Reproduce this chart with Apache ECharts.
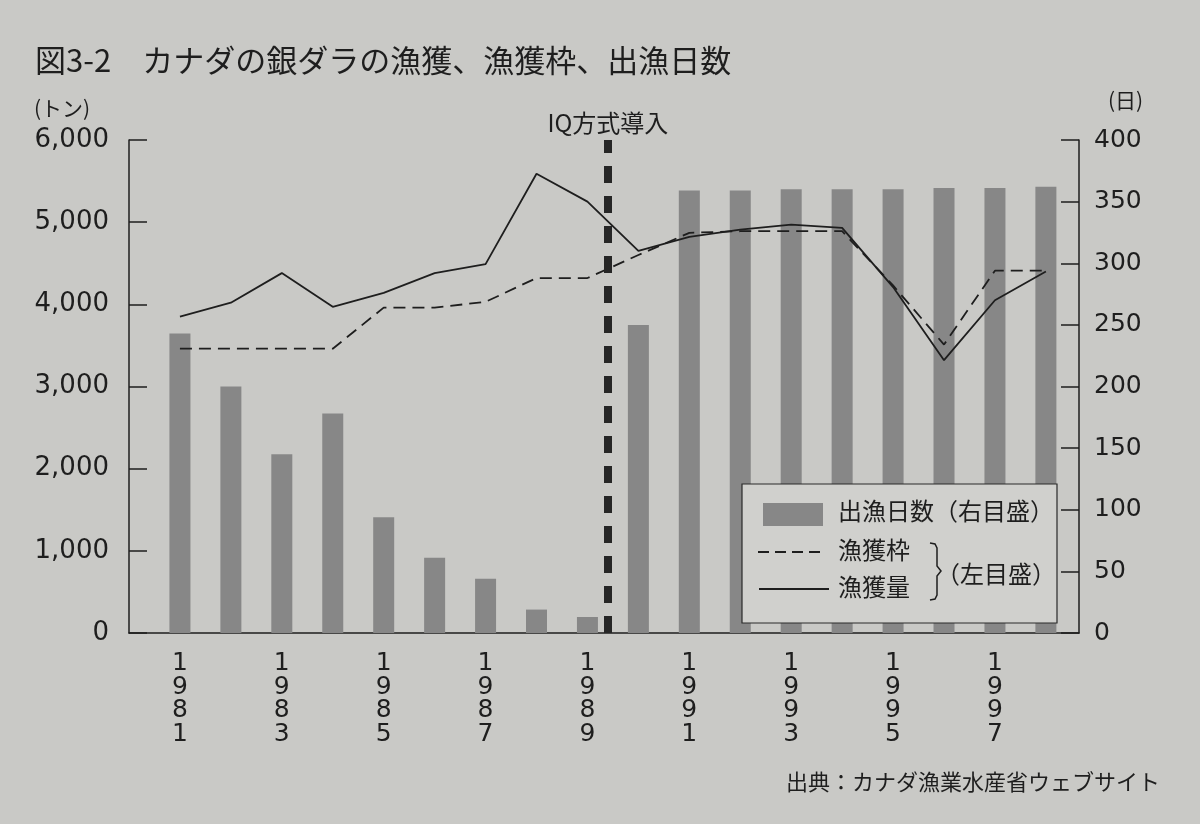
<!DOCTYPE html>
<html>
<head>
<meta charset="utf-8">
<script src="https://cdn.jsdelivr.net/npm/echarts@6/dist/echarts.min.js"></script>
<style>
  html, body { margin: 0; padding: 0; background: #c9c9c6; }
  #chart { width: 1200px; height: 824px; }
</style>
</head>
<body>
<div id="chart"></div>
<script>
// 年（横軸）
const years = [1981, 1982, 1983, 1984, 1985, 1986, 1987, 1988, 1989,
  1990, 1991, 1992, 1993, 1994, 1995, 1996, 1997, 1998];
// 出漁日数（右目盛, 日）
const fishingDays = [243, 200, 145, 178, 94, 61, 44, 19, 13,
  250, 359, 359, 360, 360, 360, 361, 361, 362];
// 漁獲量（左目盛, トン）
const catchTons = [3850, 4020, 4380, 3970, 4140, 4380, 4490, 5590, 5250,
  4650, 4820, 4910, 4970, 4930, 4210, 3320, 4050, 4400];
// 漁獲枠（左目盛, トン）
const quotaTons = [3460, 3460, 3460, 3460, 3960, 3960, 4030, 4320, 4320,
  4600, 4870, 4890, 4890, 4890, 4230, 3510, 4410, 4410];
// 目盛
const leftTicks = [0, 1000, 2000, 3000, 4000, 5000, 6000];
const rightTicks = [0, 50, 100, 150, 200, 250, 300, 350, 400];
const iqYear = 1989.4;

const JP = "'Noto Sans CJK JP', sans-serif";
const NUM = "'DejaVu Sans', sans-serif";
const INK = '#1e1e1e';
const BAR = '#878787';

const chart = echarts.init(document.getElementById('chart'));

const pair = (arr) => years.map((y, i) => [y, arr[i]]);

let option = {
  backgroundColor: '#c9c9c6',
  animation: false,
  grid: { left: 129, right: 121, top: 140, bottom: 191 },
  xAxis: {
    type: 'value',
    min: 1980,
    max: 1998.65,
    interval: 1,
    axisLine: { show: true, lineStyle: { color: INK, width: 1.5 } },
    axisTick: { show: false },
    splitLine: { show: false },
    axisLabel: {
      showMinLabel: false,
      showMaxLabel: false,
      margin: 19,
      fontFamily: NUM,
      fontSize: 25,
      lineHeight: 23.5,
      color: INK,
      formatter: function (v) {
        if (v % 2 === 1 && v <= 1997) return String(v).split('').join('\n');
        return '';
      }
    }
  },
  yAxis: [
    {
      type: 'value',
      min: leftTicks[0],
      max: leftTicks[leftTicks.length - 1],
      interval: leftTicks[1] - leftTicks[0],
      position: 'left',
      axisLine: { show: true, lineStyle: { color: INK, width: 1.5 } },
      axisTick: { show: true, inside: true, length: 18, lineStyle: { color: INK, width: 1.5 } },
      splitLine: { show: false },
      axisLabel: {
        margin: 20,
        fontFamily: NUM,
        fontSize: 26,
        color: INK,
        formatter: (v) => v.toLocaleString('en-US')
      }
    },
    {
      type: 'value',
      min: rightTicks[0],
      max: rightTicks[rightTicks.length - 1],
      interval: rightTicks[1] - rightTicks[0],
      position: 'right',
      axisLine: { show: true, lineStyle: { color: INK, width: 1.5 } },
      axisTick: { show: true, inside: true, length: 18, lineStyle: { color: INK, width: 1.5 } },
      splitLine: { show: false },
      axisLabel: {
        margin: 15,
        fontFamily: NUM,
        fontSize: 25,
        color: INK
      }
    }
  ],
  series: [
    {
      name: '出漁日数',
      type: 'bar',
      yAxisIndex: 1,
      barWidth: 21,
      itemStyle: { color: BAR },
      data: pair(fishingDays),
      z: 2
    },
    {
      name: '漁獲枠',
      type: 'line',
      yAxisIndex: 0,
      showSymbol: false,
      lineStyle: { color: INK, width: 1.8, type: [12, 7] },
      data: pair(quotaTons),
      z: 3
    },
    {
      name: '漁獲量',
      type: 'line',
      yAxisIndex: 0,
      showSymbol: false,
      lineStyle: { color: INK, width: 1.8 },
      data: pair(catchTons),
      z: 4,
      markLine: {
        silent: true,
        symbol: ['none', 'none'],
        lineStyle: { color: '#262626', width: 8, type: [17, 13] },
        label: {
          show: true,
          position: 'end',
          distance: 5,
          formatter: 'IQ方式導入',
          fontFamily: JP,
          fontSize: 24,
          color: INK
        },
        data: [{ xAxis: iqYear }]
      }
    }
  ],
  graphic: [
    // タイトル
    { type: 'text', left: 35, top: 45,
      style: { text: '図3-2　カナダの銀ダラの漁獲、漁獲枠、出漁日数', font: '31px ' + JP, fill: INK } },
    { type: 'text', left: 34, top: 98,
      style: { text: '(トン)', font: '21px ' + JP, fill: INK } },
    { type: 'text', left: 1108, top: 90,
      style: { text: '(日)', font: '21px ' + JP, fill: INK } },
    { type: 'text', right: 40, top: 771,
      style: { text: '出典：カナダ漁業水産省ウェブサイト', font: '22px ' + JP, fill: INK } },
    // 凡例
    { type: 'rect', z: 100, shape: { x: 742, y: 484, width: 315, height: 139 },
      style: { fill: '#d0d0cd', stroke: '#2a2a2a', lineWidth: 1.2 } },
    { type: 'rect', z: 101, shape: { x: 763, y: 503, width: 60, height: 23 },
      style: { fill: BAR } },
    { type: 'text', z: 101, left: 838, top: 499,
      style: { text: '出漁日数（右目盛）', font: '24px ' + JP, fill: INK } },
    { type: 'line', z: 101, shape: { x1: 758, y1: 552, x2: 822, y2: 552 },
      style: { stroke: INK, lineWidth: 1.8, lineDash: [11, 6] } },
    { type: 'text', z: 101, left: 838, top: 538,
      style: { text: '漁獲枠', font: '24px ' + JP, fill: INK } },
    { type: 'line', z: 101, shape: { x1: 759, y1: 589, x2: 829, y2: 589 },
      style: { stroke: INK, lineWidth: 1.8 } },
    { type: 'text', z: 101, left: 838, top: 575,
      style: { text: '漁獲量', font: '24px ' + JP, fill: INK } },
    { type: 'polyline', z: 101,
      shape: { points: [[930, 543], [935, 544], [937, 548], [937, 566], [941, 571], [937, 576], [937, 595], [935, 599], [930, 600]] },
      style: { stroke: INK, lineWidth: 1.5, fill: null } },
    { type: 'text', z: 101, left: 936, top: 562,
      style: { text: '（左目盛）', font: '24px ' + JP, fill: INK } }
  ]
};

chart.setOption(option);
</script>
</body>
</html>
